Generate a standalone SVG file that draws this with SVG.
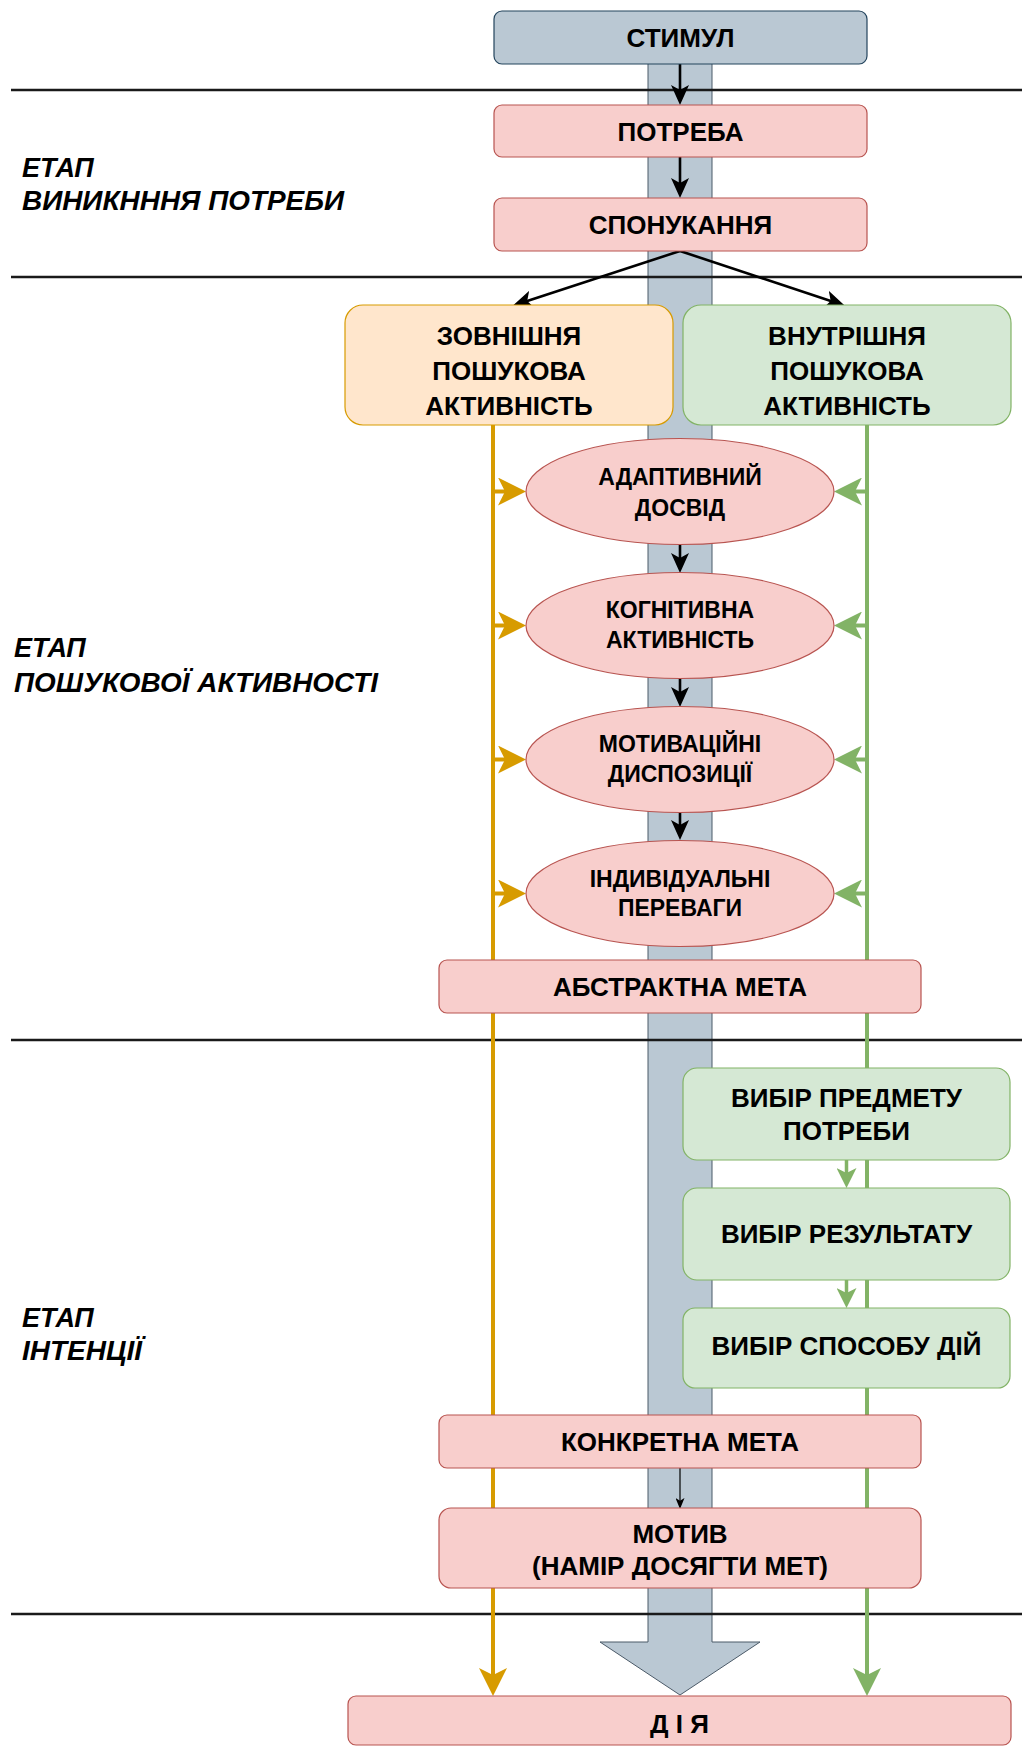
<svg xmlns="http://www.w3.org/2000/svg" width="1022" height="1747" viewBox="0 0 1022 1747">
<style>
.t{font-family:"Liberation Sans",Arial,sans-serif;font-weight:bold;fill:#000;text-anchor:middle}
.b{font-size:26px}
.e{font-size:23px}
.lab{font-family:"Liberation Sans",Arial,sans-serif;font-weight:bold;font-style:italic;font-size:27px;fill:#000}
.pink{fill:#f8cecc;stroke:#b85450;stroke-width:1.2}
.blue{fill:#bac8d3;stroke:#23445d;stroke-width:1.2}
.orng{fill:#ffe6cc;stroke:#d79b00;stroke-width:1.2}
.grn{fill:#d5e8d4;stroke:#82b366;stroke-width:1.2}
.sep{stroke:#1a1a1a;stroke-width:2.5;fill:none}
.blk{stroke:#000;stroke-width:2.6;fill:none;marker-end:url(#mBlk)}
.thin{stroke:#000;stroke-width:1.2;fill:none;marker-end:url(#mThin)}
.oline{stroke:#d79b00;stroke-width:4;fill:none}
.gline{stroke:#82b366;stroke-width:4;fill:none}
.oarr{stroke:#d79b00;stroke-width:4;fill:none;marker-end:url(#mOr)}
.garr{stroke:#82b366;stroke-width:4;fill:none;marker-end:url(#mGr)}
.garr2{stroke:#82b366;stroke-width:3.5;fill:none;marker-end:url(#mGr2)}
</style>
<defs>
<marker id="mBlk" markerUnits="userSpaceOnUse" viewBox="0 0 20 18" markerWidth="20" markerHeight="18" refX="9" refY="9" orient="auto"><path d="M0,0 L20,9 L0,18 L5,9 Z" fill="#000"/></marker>
<marker id="mThin" markerUnits="userSpaceOnUse" viewBox="0 0 11 9" markerWidth="11" markerHeight="9" refX="5" refY="4.5" orient="auto"><path d="M0,0 L11,4.5 L0,9 L2.75,4.5 Z" fill="#000"/></marker>
<marker id="mOr" markerUnits="userSpaceOnUse" viewBox="0 0 28 28" markerWidth="28" markerHeight="28" refX="14" refY="14" orient="auto"><path d="M0,0 L28,14 L0,28 L7,14 Z" fill="#d79b00"/></marker>
<marker id="mGr" markerUnits="userSpaceOnUse" viewBox="0 0 28 28" markerWidth="28" markerHeight="28" refX="14" refY="14" orient="auto"><path d="M0,0 L28,14 L0,28 L7,14 Z" fill="#82b366"/></marker>
<marker id="mGr2" markerUnits="userSpaceOnUse" viewBox="0 0 20 20" markerWidth="20" markerHeight="20" refX="10" refY="10" orient="auto"><path d="M0,0 L20,10 L0,20 L5,10 Z" fill="#82b366"/></marker>
</defs>
<rect width="1022" height="1747" fill="#fff"/>

<g id="spine">
<path d="M648,63 L712,63 L712,1642 L760,1642 L680,1695 L600,1642 L648,1642 Z" fill="#bac8d3" stroke="#4b5a68" stroke-width="1"/>
</g>

<g id="separators">
<line class="sep" x1="11" y1="90" x2="1022" y2="90"/>
<line class="sep" x1="11" y1="277" x2="1022" y2="277"/>
<line class="sep" x1="11" y1="1040" x2="1022" y2="1040"/>
<line class="sep" x1="11" y1="1614" x2="1022" y2="1614"/>
</g>

<g id="stage-labels">
<g id="label-1"><text class="lab" x="22" y="177">ЕТАП</text><text class="lab" x="22" y="210" textLength="322" lengthAdjust="spacingAndGlyphs">ВИНИКНННЯ ПОТРЕБИ</text></g>
<g id="label-2"><text class="lab" x="14" y="657">ЕТАП</text><text class="lab" x="14" y="692" textLength="364" lengthAdjust="spacingAndGlyphs">ПОШУКОВОЇ АКТИВНОСТІ</text></g>
<g id="label-3"><text class="lab" x="22" y="1327">ЕТАП</text><text class="lab" x="22" y="1360" textLength="120" lengthAdjust="spacingAndGlyphs">ІНТЕНЦІЇ</text></g>
</g>

<g id="connectors">
<line class="oline" x1="493" y1="425" x2="493" y2="1660"/>
<line class="oarr" x1="493" y1="1655" x2="493" y2="1682"/>
<line class="gline" x1="867" y1="425" x2="867" y2="1660"/>
<line class="garr" x1="867" y1="1655" x2="867" y2="1682"/>
<line class="blk" x1="680" y1="64" x2="680" y2="94"/>
<line class="blk" x1="680" y1="157" x2="680" y2="187"/>
<line class="blk" x1="680" y1="251" x2="523.4" y2="302.2"/>
<line class="blk" x1="680" y1="251" x2="834.5" y2="302.2"/>
<line class="blk" x1="680" y1="545" x2="680" y2="562"/>
<line class="blk" x1="680" y1="679" x2="680" y2="696"/>
<line class="blk" x1="680" y1="813" x2="680" y2="829"/>
<line class="oarr" x1="493" y1="491.5" x2="512" y2="491.5"/>
<line class="oarr" x1="493" y1="625.5" x2="512" y2="625.5"/>
<line class="oarr" x1="493" y1="759.5" x2="512" y2="759.5"/>
<line class="oarr" x1="493" y1="893.5" x2="512" y2="893.5"/>
<line class="garr" x1="867" y1="491.5" x2="848" y2="491.5"/>
<line class="garr" x1="867" y1="625.5" x2="848" y2="625.5"/>
<line class="garr" x1="867" y1="759.5" x2="848" y2="759.5"/>
<line class="garr" x1="867" y1="893.5" x2="848" y2="893.5"/>
<line class="garr2" x1="846.5" y1="1160" x2="846.5" y2="1178"/>
<line class="garr2" x1="846.5" y1="1280" x2="846.5" y2="1298"/>
<line class="thin" x1="680" y1="1468" x2="680" y2="1503"/>
</g>

<g id="n-stimul"><rect class="blue" x="494" y="11" width="373" height="53" rx="8"/><text class="t b" x="680.5" y="47">СТИМУЛ</text></g>
<g id="n-need"><rect class="pink" x="494" y="105" width="373" height="52" rx="8"/><text class="t b" x="680.5" y="140.5">ПОТРЕБА</text></g>
<g id="n-impulse"><rect class="pink" x="494" y="198" width="373" height="53" rx="8"/><text class="t b" x="680.5" y="234">СПОНУКАННЯ</text></g>
<g id="n-external"><rect class="orng" x="345" y="305" width="328" height="120" rx="18"/><text class="t b" x="509" y="345">ЗОВНІШНЯ</text><text class="t b" x="509" y="380">ПОШУКОВА</text><text class="t b" x="509" y="415">АКТИВНІСТЬ</text></g>
<g id="n-internal"><rect class="grn" x="683" y="305" width="328" height="120" rx="18"/><text class="t b" x="847" y="345">ВНУТРІШНЯ</text><text class="t b" x="847" y="380">ПОШУКОВА</text><text class="t b" x="847" y="415">АКТИВНІСТЬ</text></g>
<g id="n-adaptive"><ellipse class="pink" cx="680" cy="491.5" rx="154" ry="53"/><text class="t e" x="680" y="485">АДАПТИВНИЙ</text><text class="t e" x="680" y="516">ДОСВІД</text></g>
<g id="n-cognitive"><ellipse class="pink" cx="680" cy="625.5" rx="154" ry="53"/><text class="t e" x="680" y="618">КОГНІТИВНА</text><text class="t e" x="680" y="648">АКТИВНІСТЬ</text></g>
<g id="n-dispositions"><ellipse class="pink" cx="680" cy="759.5" rx="154" ry="53"/><text class="t e" x="680" y="752">МОТИВАЦІЙНІ</text><text class="t e" x="680" y="782">ДИСПОЗИЦІЇ</text></g>
<g id="n-preferences"><ellipse class="pink" cx="680" cy="893.5" rx="154" ry="53"/><text class="t e" x="680" y="887">ІНДИВІДУАЛЬНІ</text><text class="t e" x="680" y="916">ПЕРЕВАГИ</text></g>
<g id="n-abstract"><rect class="pink" x="439" y="960" width="482" height="53" rx="8"/><text class="t b" x="680" y="996">АБСТРАКТНА МЕТА</text></g>
<g id="n-subject"><rect class="grn" x="683" y="1068" width="327" height="92" rx="14"/><text class="t b" x="846.5" y="1107">ВИБІР ПРЕДМЕТУ</text><text class="t b" x="846.5" y="1140">ПОТРЕБИ</text></g>
<g id="n-result"><rect class="grn" x="683" y="1188" width="327" height="92" rx="14"/><text class="t b" x="846.5" y="1243">ВИБІР РЕЗУЛЬТАТУ</text></g>
<g id="n-method"><rect class="grn" x="683" y="1308" width="327" height="80" rx="12"/><text class="t b" x="846.5" y="1355">ВИБІР СПОСОБУ ДІЙ</text></g>
<g id="n-concrete"><rect class="pink" x="439" y="1415" width="482" height="53" rx="8"/><text class="t b" x="680" y="1451">КОНКРЕТНА МЕТА</text></g>
<g id="n-motive"><rect class="pink" x="439" y="1508" width="482" height="80" rx="12"/><text class="t b" x="680" y="1543">МОТИВ</text><text class="t b" x="680" y="1575">(НАМІР ДОСЯГТИ МЕТ)</text></g>
<g id="n-action"><rect class="pink" x="348" y="1696" width="663" height="49" rx="8"/><text class="t b" x="679.5" y="1733">Д І Я</text></g>
</svg>
